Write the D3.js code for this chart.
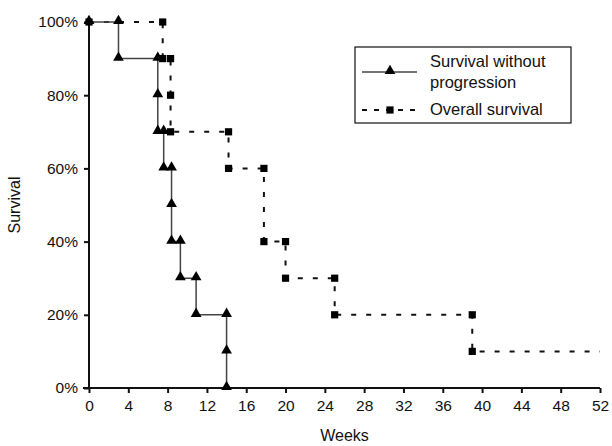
<!DOCTYPE html>
<html>
<head>
<meta charset="utf-8">
<script src="https://cdn.jsdelivr.net/npm/d3@7"></script>
<style>
  body { margin: 0; background: #fff; }
  text { font-family: "Liberation Sans", Arial, sans-serif; fill: #111; }
</style>
</head>
<body>
<svg id="chart"></svg>
<script>
// Survival without progression (step vertices, weeks / %)
const pfsWeeks = [0, 3, 3, 7, 7, 7, 7.6, 7.6, 8.4, 8.4, 8.4, 9.3, 9.3, 10.9, 10.9, 14, 14, 14];
const pfsSurvival = [100, 100, 90, 90, 80, 70, 70, 60, 60, 50, 40, 40, 30, 30, 20, 20, 10, 0];

// Overall survival (step vertices, last one is the tail without marker)
const osWeeks = [0, 7.5, 7.5, 8.3, 8.3, 8.3, 14.2, 14.2, 17.8, 17.8, 20, 20, 25, 25, 39, 39, 52];
const osSurvival = [100, 100, 90, 90, 80, 70, 70, 60, 60, 40, 40, 30, 30, 20, 20, 10, 10];

const xTicks = [0, 4, 8, 12, 16, 20, 24, 28, 32, 36, 40, 44, 48, 52];
const yTicks = [0, 20, 40, 60, 80, 100];

const seriesNames = ['Survival without', 'progression', 'Overall survival'];

const width = 612, height = 446;
const margin = {top: 22, right: 12, bottom: 58, left: 89};
const innerW = width - margin.left - margin.right;
const innerH = height - margin.top - margin.bottom;

const svg = d3.select('#chart')
    .attr('width', width)
    .attr('height', height);

const chart = svg.append('g')
    .attr('transform', `translate(${margin.left},${margin.top})`);

const xScale = d3.scaleLinear().domain([0, 52]).range([0, innerW]);
const yScale = d3.scaleLinear().domain([0, 100]).range([innerH, 0]);

// Axes
const xAxis = d3.axisBottom(xScale).tickValues(xTicks).tickSize(5).tickPadding(7);
const yAxis = d3.axisLeft(yScale).tickValues(yTicks).tickSize(5).tickPadding(6)
    .tickFormat(d => d + '%');

const xAxisG = chart.append('g')
    .attr('transform', `translate(0,${innerH})`)
    .call(xAxis);
const yAxisG = chart.append('g').call(yAxis);

[xAxisG, yAxisG].forEach(g => {
  g.select('.domain').attr('stroke', '#111').attr('stroke-width', 2);
  g.selectAll('.tick line').attr('stroke', '#111').attr('stroke-width', 2);
  g.selectAll('.tick text').style('font-size', '15.5px').attr('fill', '#111');
});
// x domain line without end caps, extend slightly to the left like the original
xAxisG.select('.domain').attr('d', `M-6,0H${innerW}`);
yAxisG.select('.domain').attr('d', `M0,0V${innerH}`);

// Axis titles
svg.append('text')
    .attr('x', margin.left + innerW / 2)
    .attr('y', 441)
    .attr('text-anchor', 'middle')
    .style('font-size', '16px')
    .text('Weeks');

svg.append('text')
    .attr('transform', `translate(20,${margin.top + innerH / 2}) rotate(-90)`)
    .attr('text-anchor', 'middle')
    .style('font-size', '16px')
    .text('Survival');

// Build point arrays
const pfs = pfsWeeks.map((w, i) => ({x: w, y: pfsSurvival[i]}));
const os = osWeeks.map((w, i) => ({x: w, y: osSurvival[i]}));

const line = d3.line()
    .x(d => xScale(d.x))
    .y(d => yScale(d.y));

chart.append('path')
    .datum(os)
    .attr('d', line)
    .attr('fill', 'none')
    .attr('stroke', '#111')
    .attr('stroke-width', 2)
    .attr('stroke-dasharray', '5,10');

chart.append('path')
    .datum(pfs)
    .attr('d', line)
    .attr('fill', 'none')
    .attr('stroke', '#444')
    .attr('stroke-width', 1.5);

const triangle = d3.symbol().type(d3.symbolTriangle).size(50);
const square = d3.symbol().type(d3.symbolSquare).size(52);

chart.selectAll('.os-mark')
    .data(os.slice(0, os.length - 1))
  .join('path')
    .attr('class', 'os-mark')
    .attr('d', square)
    .attr('transform', d => `translate(${xScale(d.x)},${yScale(d.y)})`)
    .attr('fill', '#000');

chart.selectAll('.pfs-mark')
    .data(pfs)
  .join('path')
    .attr('class', 'pfs-mark')
    .attr('d', triangle)
    .attr('transform', d => `translate(${xScale(d.x)},${yScale(d.y) - 1})`)
    .attr('fill', '#000');

// Legend
const legend = svg.append('g').attr('transform', 'translate(355,47)');
legend.append('rect')
    .attr('width', 216)
    .attr('height', 76)
    .attr('fill', '#fff')
    .attr('stroke', '#111')
    .attr('stroke-width', 1.2);

legend.append('line')
    .attr('x1', 7).attr('x2', 62).attr('y1', 25).attr('y2', 25)
    .attr('stroke', '#444').attr('stroke-width', 1.5);
legend.append('path')
    .attr('d', triangle)
    .attr('transform', 'translate(35,24)')
    .attr('fill', '#000');

legend.append('line')
    .attr('x1', 7).attr('x2', 62).attr('y1', 63).attr('y2', 63)
    .attr('stroke', '#111').attr('stroke-width', 2)
    .attr('stroke-dasharray', '5,7');
legend.append('path')
    .attr('d', square)
    .attr('transform', 'translate(35,63)')
    .attr('fill', '#000');

legend.selectAll('.legend-text')
    .data(seriesNames)
  .join('text')
    .attr('class', 'legend-text')
    .attr('x', 75)
    .attr('y', (d, i) => [20, 41, 68][i])
    .style('font-size', '16.5px')
    .text(d => d);
</script>
</body>
</html>
